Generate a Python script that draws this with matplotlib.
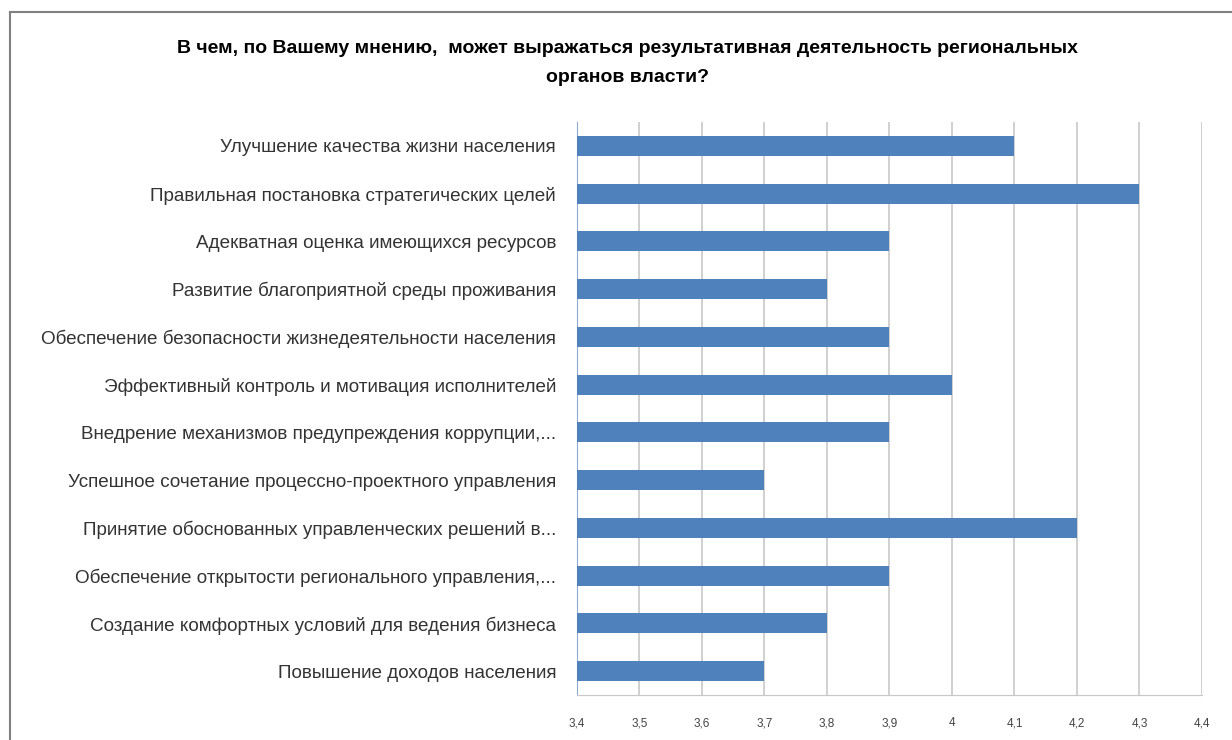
import matplotlib.pyplot as plt
import numpy as np

plt.rcParams['font.family'] = ['Liberation Sans', 'DejaVu Sans']

categories = [
    "Улучшение качества жизни населения",
    "Правильная постановка стратегических целей",
    "Адекватная оценка имеющихся ресурсов",
    "Развитие благоприятной среды проживания",
    "Обеспечение безопасности жизнедеятельности населения",
    "Эффективный контроль и мотивация исполнителей",
    "Внедрение механизмов предупреждения коррупции,...",
    "Успешное сочетание процессно-проектного управления",
    "Принятие обоснованных управленческих решений в...",
    "Обеспечение открытости регионального управления,...",
    "Создание комфортных условий для ведения бизнеса",
    "Повышение доходов населения",
]
values = [4.1, 4.3, 3.9, 3.8, 3.9, 4.0, 3.9, 3.7, 4.2, 3.9, 3.8, 3.7]
xticks = [3.4, 3.5, 3.6, 3.7, 3.8, 3.9, 4.0, 4.1, 4.2, 4.3, 4.4]
xtick_labels = ["3,4", "3,5", "3,6", "3,7", "3,8", "3,9", "4", "4,1", "4,2", "4,3", "4,4"]

title = "В чем, по Вашему мнению,  может выражаться результативная деятельность региональных\nорганов власти?"

fig = plt.figure(figsize=(12.32, 7.40), dpi=100)
ax = fig.add_axes([0.4683, 0.0608, 0.5073, 0.7743])

y = np.arange(len(categories))
xmin = 3.4
ax.barh(y, np.array(values) - xmin, left=xmin, height=0.42, color="#4F81BD", zorder=3)

ax.set_xlim(3.4, 4.4)
ax.set_ylim(len(categories) - 0.5, -0.5)
ax.set_yticks(y)
ax.set_yticklabels(categories, fontsize=13.6, color="#333333")
ax.set_xticks(xticks)
ax.set_xticklabels(xtick_labels, fontsize=8.5, color="#444444")
ax.tick_params(axis="both", length=0)
ax.tick_params(axis="x", pad=16)
ax.tick_params(axis="y", pad=15)
ax.grid(axis="x", color="#C8C8C8", linewidth=1.2, zorder=0)
for s in ["top", "right"]:
    ax.spines[s].set_visible(False)
ax.spines["left"].set_color("#8EA9CF")
ax.spines["bottom"].set_color("#C8C8C8")

fig.text(0.509, 0.915, title, ha="center", va="center", fontsize=14,
         fontweight="bold", linespacing=1.95)

# outer frame of the chart
fig.add_artist(plt.Line2D([0.0085, 0.0085], [0.0, 0.984], color="#808080", linewidth=1.5))
fig.add_artist(plt.Line2D([0.0085, 1.0], [0.984, 0.984], color="#808080", linewidth=1.5))

fig.savefig("out.png", dpi=100)
